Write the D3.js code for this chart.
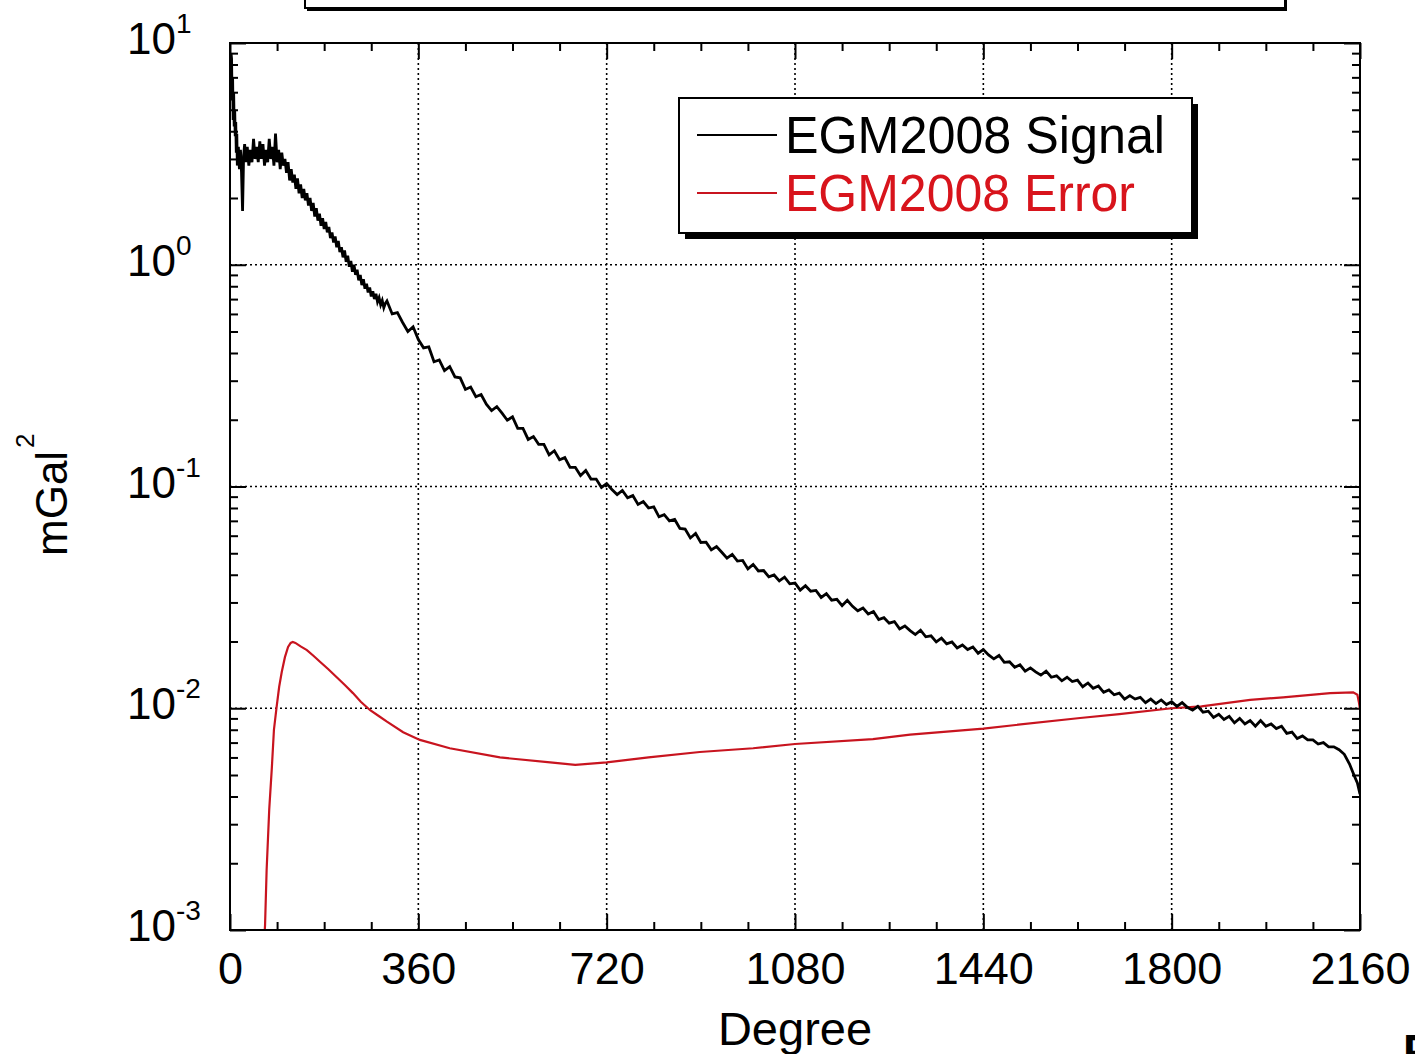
<!DOCTYPE html>
<html><head><meta charset="utf-8">
<script src="https://cdn.jsdelivr.net/npm/d3@7"></script>
<style>body{margin:0;background:#fff;} svg{display:block;font-family:"Liberation Sans",Arial,Helvetica,sans-serif;}</style>
</head><body><svg id="c" width="1415" height="1054"></svg>
<script>
// ---------- DATA ----------
const seriesNames = ["EGM2008 Signal", "EGM2008 Error"];

const signalDeg = [2,3,4,5,6,7,8,9,10,11,12,13,14,16,18,20,22,24,26,28,30,33,36,39,42,45,48,51,54,57,60,63,66,69,72,75,78,81,84,87,90,93,96,99,102,105,108,111,114,117,120,123,126,129,132,135,138,141,144,147,150,153,156,159,162,165,168,171,174,177,180,183,186,189,192,195,198,201,204,207,210,213,216,219,222,225,228,231,234,237,240,243,246,249,252,255,258,261,264,267,270,273,276,279,282,285,288,291,294,297,
300,310,320,330,340,350,360,370,380,390,400,410,420,430,440,450,460,470,480,490,500,510,520,530,540,550,560,570,580,590,600,610,620,630,640,650,660,670,680,690,700,710,720,730,740,750,760,770,780,790,800,810,820,830,840,850,860,870,880,890,900,910,920,930,940,950,960,970,980,990,1000,1010,1020,1030,1040,1050,1060,1070,1080,1090,1100,1110,1120,1130,1140,1150,1160,1170,1180,1190,1200,1210,1220,1230,1240,1250,1260,1270,1280,1290,1300,1310,1320,1330,1340,1350,1360,1370,1380,1390,1400,1410,1420,1430,1440,1450,1460,1470,1480,1490,1500,1510,1520,1530,1540,1550,1560,1570,1580,1590,1600,1610,1620,1630,1640,1650,1660,1670,1680,1690,1700,1710,1720,1730,1740,1750,1760,1770,1780,1790,1800,1810,1820,1830,1840,1850,1860,1870,1880,1890,1900,1910,1920,1930,1940,1950,1960,1970,1980,1990,2000,2010,2020,2030,2040,2050,2060,2070,2080,2090,2100,2110,2120,2130,2140,2150,2155,2160];

const signalVal = [9.0,8.5,5.5,7.0,4.5,6.0,4.2,5.0,3.8,4.4,3.2,3.9,2.8,3.4,2.7,3.3,2.6,1.75,3.1,3.5,2.9,3.4,2.8,3.3,2.9,3.7,3.0,3.4,2.9,3.6,3.0,3.5,2.8,3.3,2.9,3.7,3.0,3.4,2.8,3.9,2.9,3.3,2.7,3.2,2.8,3.0,2.6,2.9,2.4,2.7,2.35,2.55,2.2,2.45,2.1,2.3,2.0,2.2,1.95,2.1,1.85,2.0,1.75,1.9,1.65,1.8,1.58,1.7,1.5,1.62,1.45,1.56,1.4,1.48,1.32,1.4,1.26,1.34,1.2,1.28,1.14,1.2,1.08,1.16,1.03,1.1,0.98,1.04,0.93,1.0,0.9,0.95,0.85,0.9,0.81,0.86,0.78,0.82,0.75,0.79,0.72,0.76,0.7,0.74,0.68,0.71,0.66,0.69,0.64,0.67,
0.686,0.60,0.608,0.549,0.50,0.525,0.46,0.422,0.426,0.365,0.372,0.333,0.347,0.312,0.309,0.274,0.281,0.254,0.26,0.235,0.220,0.229,0.214,0.199,0.206,0.183,0.183,0.163,0.168,0.155,0.155,0.139,0.145,0.132,0.135,0.122,0.122,0.112,0.118,0.108,0.108,0.099,0.103,0.097,0.092,0.096,0.089,0.091,0.083,0.0855,0.080,0.081,0.073,0.0747,0.070,0.071,0.0647,0.0643,0.0586,0.0614,0.0559,0.0561,0.0518,0.0536,0.0505,0.0475,0.0494,0.0461,0.0464,0.0425,0.0445,0.0416,0.0418,0.0391,0.0399,0.0375,0.039,0.0364,0.0367,0.0341,0.0357,0.0337,0.034,0.0316,0.0329,0.0307,0.031,0.029,0.0307,0.0288,0.0275,0.0283,0.0266,0.0273,0.0251,0.0256,0.0242,0.0246,0.0228,0.0235,0.0224,0.0215,0.0225,0.021,0.0212,0.0199,0.0207,0.0195,0.0199,0.0187,0.0193,0.0184,0.0189,0.0177,0.0184,0.0174,0.0167,0.0173,0.0161,0.0162,0.0153,0.0157,0.0147,0.0152,0.0146,0.0141,0.0147,0.0138,0.014,0.0133,0.0138,0.0132,0.0134,0.0125,0.013,0.0123,0.0126,0.0118,0.0121,0.0115,0.0117,0.011,0.0114,0.011,0.0112,0.0106,0.011,0.0105,0.0109,0.0104,0.0107,0.0102,0.0106,0.0101,0.0098,0.0102,0.0096,0.0097,0.0091,0.0094,0.0089,0.0092,0.0086,0.009,0.0085,0.0088,0.0083,0.0088,0.0083,0.0085,0.0081,0.0083,0.0077,0.0078,0.0073,0.0075,0.0072,0.0072,0.0069,0.007,0.0067,0.0067,0.0065,0.0062,0.0056,0.0049,0.0046,0.0041];

const errorDeg = [64,67,70,75,80,84,89,94,99,105,111,116,120,125,135,147,160,172,188,204,220,235,250,268,285,300,331,363,420,516,612,660,720,800,898,1000,1080,1229,1300,1440,1625,1700,1800,1857,1950,2013,2103,2147,2155,2158,2160];
const errorVal = [0.0008,0.00105,0.00186,0.0035,0.0054,0.008,0.0101,0.0125,0.0146,0.017,0.0189,0.0197,0.0199,0.0197,0.019,0.0183,0.0172,0.0162,0.015,0.0138,0.0127,0.0117,0.0107,0.0098,0.0092,0.0087,0.0078,0.0072,0.0066,0.0060,0.0057,0.00555,0.0057,0.0060,0.00635,0.0066,0.0069,0.00726,0.0076,0.0081,0.00904,0.0094,0.0100,0.0102,0.0109,0.0112,0.0117,0.0118,0.0115,0.0106,0.0099];

const xTickValues = [0,360,720,1080,1440,1800,2160];
const xTickLabels = ["0","360","720","1080","1440","1800","2160"];
const xMinorTicks = [90,180,270,450,540,630,810,900,990,1170,1260,1350,1530,1620,1710,1890,1980,2070];
const yTickValues = [0.001,0.01,0.1,1,10];
const yTickExponents = ["-3","-2","-1","0","1"];
const yMinorMultipliers = [2,3,4,5,6,7,8,9];

// ---------- CHART ----------
const svg = d3.select("#c");
const L = 230, R = 1360, T = 43, B = 930;
const x = d3.scaleLinear().domain([0, 2160]).range([L, R]);
const y = d3.scaleLog().domain([1e-3, 10]).range([B, T]);
const RED = "#c8141f";

// cut-off box at top
svg.append("rect").attr("x", 307).attr("y", -20).attr("width", 980).attr("height", 31).attr("fill", "#000");
svg.append("rect").attr("x", 305).attr("y", -20).attr("width", 980).attr("height", 28)
  .attr("fill", "#fff").attr("stroke", "#000").attr("stroke-width", 2);

svg.append("defs").append("clipPath").attr("id", "plotclip")
  .append("rect").attr("x", L).attr("y", T).attr("width", R - L).attr("height", B - T);

// grid
const grid = svg.append("g").attr("stroke", "#000").attr("stroke-width", 1.6).attr("stroke-dasharray", "2,3");
grid.selectAll("line.vx").data(xTickValues.slice(1, -1)).join("line")
  .attr("x1", d => x(d)).attr("x2", d => x(d)).attr("y1", T).attr("y2", B);
grid.selectAll("line.hy").data(yTickValues.slice(1, -1)).join("line")
  .attr("y1", d => y(d)).attr("y2", d => y(d)).attr("x1", L).attr("x2", R);

// axes (ticks inward)
const font = "Liberation Sans, Arial, sans-serif";
function styleAxis(g) {
  g.select(".domain").remove();
  g.selectAll(".tick line").attr("stroke", "#000").attr("stroke-width", 2);
}
const xb = svg.append("g").attr("transform", `translate(0,${B})`)
  .call(d3.axisBottom(x).tickValues(xTickValues).tickSize(-16).tickPadding(22).tickFormat((d, i) => xTickLabels[i]));
styleAxis(xb);
xb.selectAll("text").attr("font-size", 45).attr("font-family", font).attr("fill", "#000");
svg.append("g").attr("transform", `translate(0,${B})`)
  .call(d3.axisBottom(x).tickValues(xMinorTicks).tickSize(-8).tickFormat("")).call(styleAxis);
svg.append("g").attr("transform", `translate(0,${T})`)
  .call(d3.axisTop(x).tickValues(xTickValues).tickSize(-16).tickFormat("")).call(styleAxis);
svg.append("g").attr("transform", `translate(0,${T})`)
  .call(d3.axisTop(x).tickValues(xMinorTicks).tickSize(-8).tickFormat("")).call(styleAxis);

const yMinor = [];
yTickValues.slice(0, -1).forEach(d => yMinorMultipliers.forEach(m => yMinor.push(d * m)));
svg.append("g").attr("transform", `translate(${L},0)`)
  .call(d3.axisLeft(y).tickValues(yTickValues).tickSize(-16).tickFormat("")).call(styleAxis);
svg.append("g").attr("transform", `translate(${L},0)`)
  .call(d3.axisLeft(y).tickValues(yMinor).tickSize(-8).tickFormat("")).call(styleAxis);
svg.append("g").attr("transform", `translate(${R},0)`)
  .call(d3.axisRight(y).tickValues(yTickValues).tickSize(-16).tickFormat("")).call(styleAxis);
svg.append("g").attr("transform", `translate(${R},0)`)
  .call(d3.axisRight(y).tickValues(yMinor).tickSize(-8).tickFormat("")).call(styleAxis);

// y tick labels with superscripts
const yl = svg.append("g").attr("font-family", font).attr("fill", "#000");
yTickValues.forEach((v, i) => {
  const t = yl.append("text").attr("x", 127).attr("y", y(v) + 11).attr("font-size", 44).text("10");
  t.append("tspan").attr("font-size", 28).attr("dy", -21).text(yTickExponents[i]);
});

// curves
const plot = svg.append("g").attr("clip-path", "url(#plotclip)");
const line = d3.line().x(d => x(d[0])).y(d => y(d[1]));
plot.append("path").datum(errorDeg.map((d, i) => [d, errorVal[i]]))
  .attr("d", line).attr("fill", "none").attr("stroke", RED).attr("stroke-width", 2.2);
plot.append("path").datum(signalDeg.map((d, i) => [d, signalVal[i]]))
  .attr("d", line).attr("fill", "none").attr("stroke", "#000").attr("stroke-width", 2.8)
  .attr("stroke-linejoin", "miter");

// frame
svg.append("rect").attr("x", L).attr("y", T).attr("width", R - L).attr("height", B - T)
  .attr("fill", "none").attr("stroke", "#000").attr("stroke-width", 2);

// axis titles
svg.append("text").attr("x", (L + R) / 2).attr("y", 1045).attr("text-anchor", "middle")
  .attr("font-family", font).attr("font-size", 47).attr("fill", "#000").text("Degree");
const yt = svg.append("text").attr("transform", "translate(67,556) rotate(-90)")
  .attr("font-family", font).attr("font-size", 44).attr("fill", "#000").text("mGal");
yt.append("tspan").attr("font-size", 26).attr("dy", -33).attr("dx", 3).text("2");

// legend
const lg = svg.append("g");
lg.append("rect").attr("x", 685).attr("y", 104).attr("width", 513).attr("height", 135).attr("fill", "#000");
lg.append("rect").attr("x", 679).attr("y", 98).attr("width", 513).attr("height", 135)
  .attr("fill", "#fff").attr("stroke", "#000").attr("stroke-width", 2);
const legendColors = ["#000", RED];
const legendTextColors = ["#000", "#d8141c"];
const legendRowY = [135, 193];
const legendTextLen = [380, 350];
seriesNames.forEach((name, i) => {
  lg.append("line").attr("x1", 697).attr("x2", 777).attr("y1", legendRowY[i]).attr("y2", legendRowY[i])
    .attr("stroke", legendColors[i]).attr("stroke-width", 1.8);
  lg.append("text").attr("x", 785).attr("y", legendRowY[i] + 18).attr("font-family", font)
    .attr("font-size", 52).attr("fill", legendTextColors[i])
    .attr("textLength", legendTextLen[i]).attr("lengthAdjust", "spacingAndGlyphs").text(name);
});

// cut-off letter at bottom-right (partly outside the frame, as in the reference)
svg.append("text").attr("x", 1403).attr("y", 1067).attr("font-family", font).attr("font-weight", "bold")
  .attr("font-size", 46).attr("fill", "#000").text("P");
</script></body></html>
